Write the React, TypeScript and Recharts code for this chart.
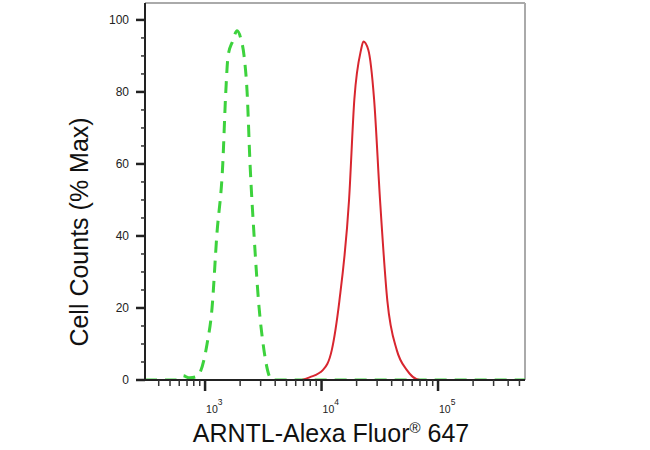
import React from 'react';
import { LineChart, Line, XAxis, YAxis, ReferenceLine, Label } from 'recharts';

// isotype control (green, dashed)
const controlX = [305, 560, 640, 740, 853, 1040, 1148, 1260, 1419, 1506, 1576, 1720, 1884, 2020, 2162, 2295, 2433, 2636, 2911, 3150, 3758, 558000];
const controlY = [0, 0, 1.2, 0.6, 1, 10, 20, 40, 60, 80, 90, 94, 97, 95, 90, 80, 60, 40, 20, 10, 0, 0];

// ARNTL stained sample (red)
const sampleX = [305, 6530, 7960, 10300, 12240, 14230, 17220, 19130, 21830, 22860, 25180, 28250, 31780, 36720, 44250, 53860, 70000, 558000];
const sampleY = [0, 0, 0.8, 2.8, 8.3, 22, 50, 78, 91.7, 94, 91.7, 78, 50, 22, 8.3, 2.8, 0, 0];

const majorX = [1000, 10000, 100000];
const minorX = [400, 500, 600, 700, 800, 900, 2000, 3000, 4000, 5000, 6000, 7000, 8000, 9000,
  20000, 30000, 40000, 50000, 60000, 70000, 80000, 90000, 200000, 300000, 400000, 500000];
const exponents = ['3', '4', '5'];
const yTicks = [0, 5, 10, 15, 20, 25, 30, 35, 40, 45, 50, 55, 60, 65, 70, 75, 80, 85, 90, 95, 100];

const X_MIN = 305;
const X_MAX = 558000;
const Y_MAX = 104.7;

const controlData = controlX.map((x, i) => ({ x, y: controlY[i] }));
const sampleData = sampleX.map((x, i) => ({ x, y: sampleY[i] }));

const FONT = '"Liberation Sans", Arial, sans-serif';

const XTick = (props: any) => {
  const { x, y, payload } = props;
  const idx = majorX.indexOf(payload.value);
  if (idx < 0) {
    return <line x1={x} x2={x} y1={y} y2={y + 6} stroke="#333" strokeWidth={1.5} />;
  }
  return (
    <g>
      <line x1={x} x2={x} y1={y} y2={y + 11} stroke="#222" strokeWidth={2.5} />
      <text x={x + 1} y={y + 33} fontSize={10.5} fill="#222" fontFamily={FONT}>
        10
        <tspan fontSize={8.5} dy={-8}>{exponents[idx]}</tspan>
      </text>
    </g>
  );
};

const YTick = (props: any) => {
  const { x, y, payload } = props;
  const major = payload.value % 20 === 0;
  if (!major) {
    return <line x1={x - 4} x2={x} y1={y} y2={y} stroke="#333" strokeWidth={1.5} />;
  }
  return (
    <g>
      <line x1={x - 9} x2={x} y1={y} y2={y} stroke="#222" strokeWidth={2.5} />
      <text x={x - 16} y={y} dy={4} textAnchor="end" fontSize={12} fill="#222" fontFamily={FONT}>
        {payload.value}
      </text>
    </g>
  );
};

export default function App() {
  return (
    <div style={{ position: 'absolute', left: 0, top: 0, width: 650, height: 450, background: '#fff' }}>
      <LineChart width={650} height={450} margin={{ top: 3, right: 125, bottom: 0, left: 0 }}>
        <XAxis
          dataKey="x"
          type="number"
          scale="log"
          domain={[X_MIN, X_MAX]}
          allowDataOverflow
          ticks={[...minorX, ...majorX].sort((a, b) => a - b)}
          interval={0}
          tick={<XTick />}
          tickLine={false}
          tickSize={0}
          tickMargin={0}
          height={70}
          axisLine={{ stroke: '#222', strokeWidth: 2 }}
        >
          <Label
            content={() => (
              <text x={331} y={442} textAnchor="middle" fontSize={25} fill="#111" fontFamily={FONT}>
                ARNTL-Alexa Fluor
                <tspan fontSize={15} dy={-9}>®</tspan>
                <tspan dy={9}> 647</tspan>
              </text>
            )}
          />
        </XAxis>
        <YAxis
          type="number"
          domain={[0, Y_MAX]}
          allowDataOverflow
          ticks={yTicks}
          interval={0}
          tick={<YTick />}
          tickLine={false}
          tickSize={0}
          tickMargin={0}
          width={145}
          axisLine={{ stroke: '#222', strokeWidth: 2 }}
        >
          <Label
            content={() => (
              <text
                x={88}
                y={232}
                transform="rotate(-90, 88, 232)"
                textAnchor="middle"
                fontSize={25}
                fill="#111"
                fontFamily={FONT}
              >
                Cell Counts (% Max)
              </text>
            )}
          />
        </YAxis>
        <ReferenceLine y={Y_MAX} stroke="#aaa" strokeWidth={2} />
        <ReferenceLine x={X_MAX} stroke="#aaa" strokeWidth={2} />
        <Line
          data={controlData}
          dataKey="y"
          type="monotone"
          stroke="#3dd23d"
          strokeWidth={3}
          strokeDasharray="12 8"
          dot={false}
          isAnimationActive={false}
        />
        <Line
          data={sampleData}
          dataKey="y"
          type="monotone"
          stroke="#d8262f"
          strokeWidth={2}
          dot={false}
          isAnimationActive={false}
        />
      </LineChart>
    </div>
  );
}
